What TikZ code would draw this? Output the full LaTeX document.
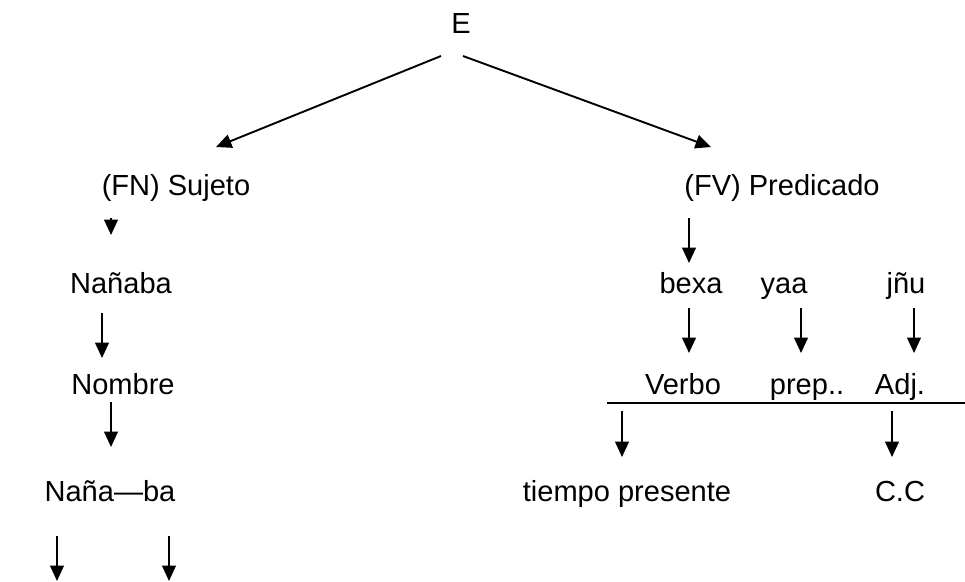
\documentclass[tikz,border=0pt]{standalone}
\usepackage{fontspec}
\setmainfont{Liberation Sans}
\usetikzlibrary{arrows.meta}

\tikzset{
	lbl/.style={anchor=base, inner sep=0pt, font=\fontsize{12.2}{14}\selectfont},
	arr/.style={line width=0.8pt, -{Triangle[width=5.8pt,length=6.5pt]}},
}

\begin{document}
\begin{tikzpicture}[x=0.42pt, y=-0.42pt]
	\useasboundingbox (0,0) rectangle (965,581);
	% oracion
	\node[lbl] (E) at (461,33) {E};
	\node[lbl] (FN) at (176,195) {(FN) Sujeto};
	\node[lbl] (FV) at (782,195) {(FV) Predicado};
	% palabras
	\node[lbl] (nanaba) at (121,293) {Nañaba};
	\node[lbl] (bexa) at (691,293) {bexa};
	\node[lbl] (yaa) at (784,293) {yaa};
	\node[lbl] (jnu) at (906,293) {jñu};
	% categorias
	\node[lbl] (nombre) at (123,394) {Nombre};
	\node[lbl] (verbo) at (683,394) {Verbo};
	\node[lbl] (prep) at (807,394) {prep..};
	\node[lbl] (adj) at (900,394) {Adj.};
	% morfemas
	\node[lbl] (morf) at (110,501) {Naña—ba};
	\node[lbl] (tiempo) at (627,501) {tiempo presente};
	\node[lbl] (cc) at (900,501) {C.C};

	% puntas de las flechas
	\coordinate (E-l) at (441,56);
	\coordinate (E-r) at (463,56);
	\coordinate (FN-in) at (216,147);
	\coordinate (FV-in) at (711,147);
	\coordinate (FN-out) at (111,218);
	\coordinate (nanaba-in) at (111,235);
	\coordinate (FV-out) at (689,218);
	\coordinate (bexa-in) at (689,263);
	\coordinate (nanaba-out) at (102,313);
	\coordinate (nombre-in) at (102,358);
	\coordinate (bexa-out) at (689,308);
	\coordinate (verbo-in) at (689,353);
	\coordinate (yaa-out) at (801,308);
	\coordinate (prep-in) at (801,353);
	\coordinate (jnu-out) at (914,308);
	\coordinate (adj-in) at (914,353);
	\coordinate (nombre-out) at (111,402);
	\coordinate (morf-in) at (111,447);
	\coordinate (raya-l) at (607,403);
	\coordinate (raya-r) at (965,403);
	\coordinate (verbo-out) at (622,411);
	\coordinate (tiempo-in) at (622,457);
	\coordinate (adj-out) at (892,411);
	\coordinate (cc-in) at (892,457);
	\coordinate (nana-out) at (57,536);
	\coordinate (nana-end) at (57,581);
	\coordinate (ba-out) at (169,536);
	\coordinate (ba-end) at (169,581);

	\draw[arr] (E-l) -- (FN-in);
	\draw[arr] (E-r) -- (FV-in);
	\draw[arr] (FN-out) -- (nanaba-in);
	\draw[arr] (FV-out) -- (bexa-in);
	\draw[arr] (nanaba-out) -- (nombre-in);
	\draw[arr] (bexa-out) -- (verbo-in);
	\draw[arr] (yaa-out) -- (prep-in);
	\draw[arr] (jnu-out) -- (adj-in);
	\draw[line width=0.8pt] (raya-l) -- (raya-r);
	\draw[arr] (nombre-out) -- (morf-in);
	\draw[arr] (verbo-out) -- (tiempo-in);
	\draw[arr] (adj-out) -- (cc-in);
	\draw[arr] (nana-out) -- (nana-end);
	\draw[arr] (ba-out) -- (ba-end);
\end{tikzpicture}
\end{document}
